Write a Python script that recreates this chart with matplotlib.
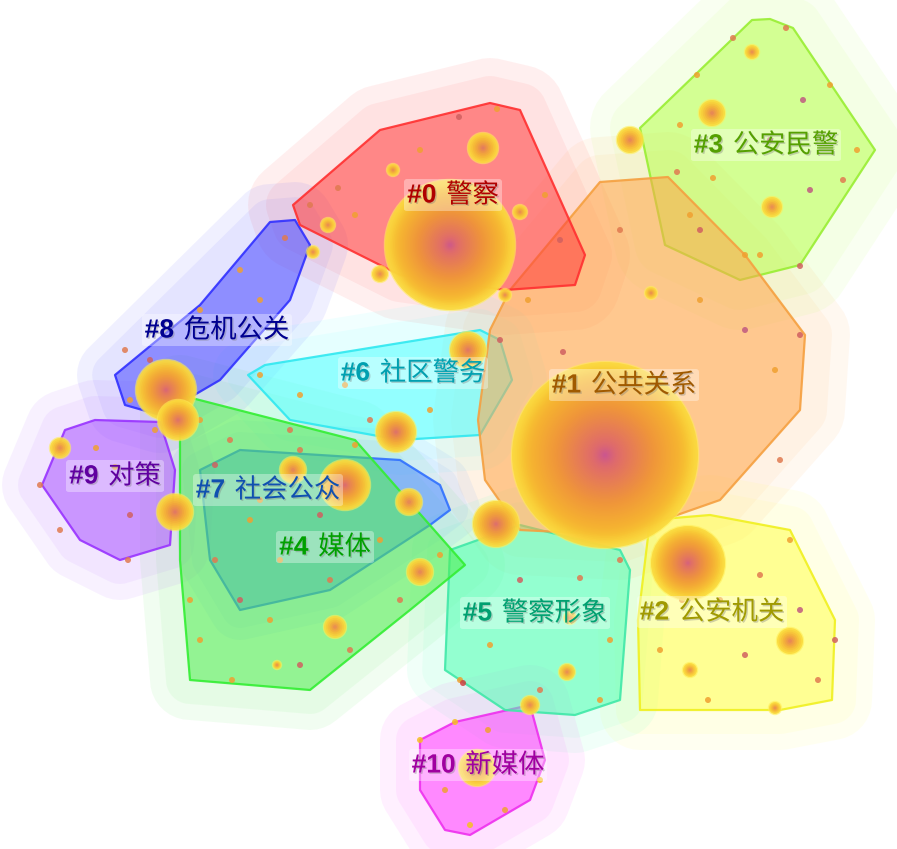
import numpy as np
import matplotlib
matplotlib.use('Agg')
import matplotlib.pyplot as plt
import matplotlib.patheffects as pe
from matplotlib.patches import Polygon, Circle
from matplotlib.colors import LinearSegmentedColormap
from matplotlib.offsetbox import TextArea, HPacker, AnnotationBbox

W, H = 897, 849

cluster_ids = ['#0', '#1', '#2', '#3', '#4', '#5', '#6', '#7', '#8', '#9', '#10']
cluster_names = ['警察', '公共关系', '公安机关', '公安民警', '媒体', '警察形象',
                 '社区警务', '社会公众', '危机公关', '对策', '新媒体']
fill_colors = ['#ff3c3c', '#ffa64a', '#ffff50', '#b8ff50', '#50ee50', '#50ffb4',
               '#50ffff', '#4d8dff', '#4848ff', '#aa55ff', '#ff40ff']
edge_colors = ['#ff3030', '#f5a040', '#f0f020', '#99ee33', '#33ee33', '#40e8a8',
               '#30e8f0', '#3070ff', '#3030ff', '#9933ff', '#ee30ee']
label_colors = ['#b00000', '#a05a00', '#a09a00', '#55a000', '#00a000', '#00a070',
                '#00a0b0', '#1050b0', '#000090', '#6000a0', '#a000a0']
label_x = [453, 624, 712, 766, 325, 535, 413, 268, 217, 115, 478]
label_y = [195, 385, 612, 145, 547, 613, 373, 490, 330, 476, 765]
halo_size = [45, 45, 40, 50, 40, 38, 35, 30, 38, 40, 40]

# hull vertices (picture pixels)
hulls = [
    [(293, 205), (380, 130), (490, 103), (520, 110), (585, 255), (575, 285),
     (505, 290), (400, 275), (300, 225)],
    [(510, 290), (600, 182), (668, 177), (745, 255), (805, 335), (800, 410),
     (720, 500), (620, 535), (520, 530), (485, 480), (478, 420), (490, 330)],
    [(650, 520), (710, 515), (790, 530), (835, 620), (832, 700), (780, 710),
     (640, 710), (638, 620)],
    [(640, 128), (752, 20), (770, 19), (793, 28), (875, 150), (800, 265),
     (740, 280), (665, 245)],
    [(180, 395), (355, 440), (465, 565), (410, 610), (310, 690), (190, 680),
     (180, 560)],
    [(450, 550), (520, 525), (620, 550), (630, 570), (620, 700), (575, 715),
     (505, 710), (445, 670)],
    [(248, 375), (265, 365), (480, 330), (500, 340), (512, 380), (480, 435),
     (400, 440), (290, 420)],
    [(200, 470), (240, 450), (400, 460), (440, 485), (450, 510), (430, 525),
     (330, 590), (240, 610), (210, 560)],
    [(115, 375), (200, 305), (270, 222), (295, 220), (310, 245), (290, 300),
     (220, 380), (160, 415), (125, 405)],
    [(42, 485), (65, 430), (95, 420), (160, 422), (175, 470), (170, 545),
     (120, 560), (80, 540)],
    [(420, 740), (455, 722), (530, 705), (545, 760), (530, 800), (470, 835),
     (445, 830), (420, 790)],
]

# large nodes (centre x, centre y, radius in px)
node_x = [450, 605, 688, 483, 712, 630, 772, 752, 468, 396, 166, 178, 175, 345,
          293, 409, 420, 335, 496, 567, 790, 775, 690, 530, 477, 60, 380, 328,
          520, 393, 313, 570, 651, 505, 277]
node_y = [245, 455, 563, 148, 113, 140, 207, 52, 350, 432, 390, 420, 512, 485,
          470, 502, 572, 627, 524, 672, 641, 708, 670, 705, 768, 448, 274, 225,
          212, 170, 252, 618, 293, 295, 665]
node_r = [65, 93, 37, 15, 13, 13, 10, 7, 18, 20, 30, 20, 18, 25, 13, 13, 13, 11,
          23, 8, 13, 6, 7, 9, 18, 10, 8, 7, 7, 6, 6, 6, 6, 6, 4]

# small dots
dot_x = [338, 420, 459, 497, 545, 560, 355, 310, 470,
         563, 700, 745, 775, 780, 760, 620, 690, 528, 545, 675, 800,
         697, 733, 786, 803, 830, 843, 800, 713, 677, 810, 857, 745, 700, 680, 770,
         720, 760, 800, 682, 745, 708, 818, 790, 660, 835,
         580, 610, 520, 490, 540, 460, 600, 620, 463,
         300, 260, 370, 430, 500, 345, 290,
         285, 240, 200, 125, 130, 150, 260,
         96, 130, 128, 115, 60, 155, 40,
         200, 230, 215, 250, 280, 215, 240, 270, 330, 380, 440, 400, 300, 232,
         200, 350, 260, 320, 190, 300, 355,
         420, 455, 445, 470, 505, 540, 488]
dot_y = [188, 150, 117, 109, 195, 240, 215, 205, 280,
         352, 300, 330, 370, 460, 255, 230, 215, 300, 470, 450, 335,
         75, 38, 28, 100, 85, 180, 266, 178, 172, 190, 150, 255, 230, 125, 140,
         600, 575, 610, 600, 655, 700, 680, 540, 650, 640,
         578, 640, 580, 645, 690, 680, 700, 560, 683,
         395, 375, 420, 410, 340, 385, 430,
         238, 270, 310, 350, 400, 360, 300,
         448, 515, 560, 467, 530, 430, 485,
         420, 440, 465, 520, 560, 560, 600, 620, 580, 540, 555, 600, 665, 680,
         640, 650, 500, 515, 600, 450, 445,
         740, 722, 790, 825, 810, 780, 730]
dot_c = ['#e07a50', '#f0a030', '#d06060', '#f0a030', '#f0a030', '#d06060', '#f0a030', '#e07a50', '#f0a030',
         '#d06060', '#f0a030', '#c05a80', '#f0a030', '#e07a50', '#f0a030', '#e07a50', '#f0a030', '#f0a030', '#c05a80', '#f0a030', '#d06060',
         '#f0a030', '#e07a50', '#e07a50', '#c05a80', '#f0a030', '#e07a50', '#d06060', '#f0a030', '#e07a50', '#c05a80', '#f0a030', '#f0a030', '#d06060', '#f0a030', '#c05a80',
         '#f0a030', '#e07a50', '#c05a80', '#f0a030', '#d06060', '#f0a030', '#e07a50', '#f0a030', '#f0a030', '#d06060',
         '#e07a50', '#f0a030', '#d06060', '#f0a030', '#e07a50', '#f0a030', '#f0a030', '#e07a50', '#d04040',
         '#f0a030', '#f0a030', '#e07a50', '#f0a030', '#d06060', '#f0a030', '#e07a50',
         '#e07a50', '#f0a030', '#f0a030', '#e07a50', '#f0a030', '#d06060', '#f0a030',
         '#f0a030', '#d06060', '#e07a50', '#f0a030', '#e07a50', '#f0a030', '#e07a50',
         '#f0a030', '#e07a50', '#d06060', '#f0a030', '#f0a030', '#e07a50', '#d06060', '#f0a030', '#e07a50', '#f0a030', '#f0a030', '#e07a50', '#d06060', '#f0a030',
         '#f0a030', '#e07a50', '#f0a030', '#d06060', '#f0a030', '#e07a50', '#f0a030',
         '#f5c020', '#f5c020', '#f0a030', '#f5c020', '#f0a030', '#f5c020', '#f0a030']

node_cmap = LinearSegmentedColormap.from_list(
    'node', [(0.0, '#c24fa0'), (0.15, '#e06a70'), (0.55, '#f0943c'),
             (0.88, '#f7b830'), (1.0, '#fbd83a')])


def convex_hull(points):
    pts = sorted(map(tuple, points))

    def cross(o, a, b):
        return (a[0] - o[0]) * (b[1] - o[1]) - (a[1] - o[1]) * (b[0] - o[0])

    lower, upper = [], []
    for p in pts:
        while len(lower) >= 2 and cross(lower[-2], lower[-1], p) <= 0:
            lower.pop()
        lower.append(p)
    for p in reversed(pts):
        while len(upper) >= 2 and cross(upper[-2], upper[-1], p) <= 0:
            upper.pop()
        upper.append(p)
    return lower[:-1] + upper[:-1]


def grow(pts, radius):
    # hull of the polygon widened by a disc
    ang = np.linspace(0, 2 * np.pi, 36, endpoint=False)
    ring = np.c_[np.cos(ang), np.sin(ang)] * radius
    cloud = np.vstack([np.array(p) + ring for p in pts])
    return convex_hull(cloud)


fig = plt.figure(figsize=(W / 100, H / 100), dpi=100)
ax = fig.add_axes([0, 0, 1, 1])
ax.set_xlim(0, W)
ax.set_ylim(H, 0)
ax.axis('off')

# pale halos around every cluster
for pts, fc, hs in zip(hulls, fill_colors, halo_size):
    ax.add_patch(Polygon(grow(pts, hs), closed=True, fc=fc, ec='none', alpha=0.08, zorder=1))
    ax.add_patch(Polygon(grow(pts, hs * 0.6), closed=True, fc=fc, ec='none', alpha=0.07, zorder=1))

# hulls, last cluster first so low ids lie on top
for pts, fc, ec in list(zip(hulls, fill_colors, edge_colors))[::-1]:
    ax.add_patch(Polygon(pts, closed=True, fc=fc, ec='none', alpha=0.55, zorder=2))
    ax.add_patch(Polygon(pts, closed=True, fill=False, ec=ec, lw=1.6, alpha=0.9,
                         joinstyle='round', zorder=2))

# small dots
for x, y, c in zip(dot_x, dot_y, dot_c):
    ax.add_patch(Circle((x, y), 3, fc=c, ec='none', alpha=0.85, zorder=3))

# nodes with radial gradient
for x, y, r in zip(node_x, node_y, node_r):
    n = max(6, int(r * 0.6))
    ax.add_patch(Circle((x, y), r + 1.2, fc='#ffee55', ec='none', alpha=0.6, zorder=4))
    for k in range(n, 0, -1):
        f = k / n
        ax.add_patch(Circle((x, y), r * f, fc=node_cmap(f), ec='none',
                            alpha=0.85 if k == n else 0.3, zorder=4))

# labels
shadow = [pe.withSimplePatchShadow(offset=(1, -1), shadow_rgbFace='#777777', alpha=0.35)]
for cid, name, col, lx, ly in zip(cluster_ids, cluster_names, label_colors, label_x, label_y):
    t1 = TextArea(cid, textprops=dict(family='Liberation Sans', weight='bold',
                                       size=19, color=col, path_effects=shadow))
    t2 = TextArea(name, textprops=dict(family=['Noto Sans CJK SC', 'DejaVu Sans'],
                                        size=19, color=col, path_effects=shadow))
    box = HPacker(children=[t1, t2], sep=7, pad=0, align='baseline')
    ab = AnnotationBbox(box, (lx, ly), frameon=True, pad=0.2, zorder=6,
                        bboxprops=dict(boxstyle='round,pad=0.2', fc='white',
                                       ec='none', alpha=0.35))
    ax.add_artist(ab)

fig.savefig('out.png', dpi=100, facecolor='white')
